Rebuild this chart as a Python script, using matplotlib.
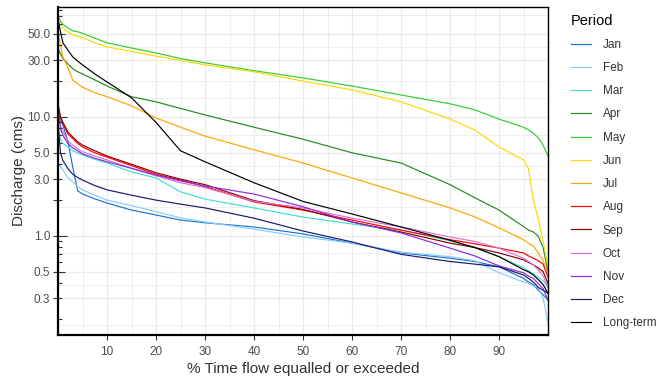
import matplotlib
matplotlib.use("Agg")
import matplotlib.pyplot as plt
import matplotlib.transforms as mtransforms
import numpy as np

plt.rcParams['font.family'] = ['Liberation Sans', 'DejaVu Sans']

# % time flow equalled or exceeded
pct = [0, 0.5, 1, 2, 3, 4, 5, 7.5, 10, 15, 20, 25, 30, 40, 50, 60, 70, 80, 85, 90, 95, 96, 97, 98, 99, 100]

jan = [10.5, 9.5, 8.5, 6.3, 3.8, 2.4, 2.25, 2.05, 1.89, 1.65, 1.5, 1.36, 1.29, 1.19, 1.04, 0.87, 0.72, 0.65, 0.61, 0.55, 0.44, 0.41, 0.39, 0.35, 0.32, 0.29]
feb = [4.2, 3.8, 3.6, 3.1, 2.85, 2.6, 2.44, 2.2, 2.0, 1.8, 1.6, 1.42, 1.31, 1.14, 0.98, 0.87, 0.73, 0.67, 0.62, 0.49, 0.41, 0.40, 0.38, 0.37, 0.30, 0.185]
mar = [8.1, 6.5, 6.0, 5.6, 5.2, 5.0, 4.8, 4.4, 4.1, 3.45, 3.07, 2.35, 2.04, 1.72, 1.44, 1.26, 1.12, 0.91, 0.80, 0.67, 0.54, 0.51, 0.48, 0.45, 0.42, 0.37]
apr = [38, 34, 31, 28, 25.5, 24, 23, 20.5, 18.2, 14.8, 13.4, 11.8, 10.4, 8.2, 6.5, 5.0, 4.1, 2.7, 2.1, 1.65, 1.2, 1.12, 1.08, 1.0, 0.8, 0.5]
may = [70, 64, 60, 56, 53, 52, 50.5, 46, 42, 38, 34.5, 31, 28.5, 24.5, 21.3, 18.2, 15.3, 12.9, 11.5, 9.6, 8.2, 7.8, 7.3, 6.7, 5.8, 4.7]
jun = [65, 60, 56, 52, 49, 47.5, 46.5, 42, 38.8, 35.5, 32.5, 30, 27.4, 24, 20, 16.9, 13.4, 9.6, 7.8, 5.6, 4.35, 3.7, 2.0, 1.4, 0.9, 0.55]
jul = [52, 40, 32, 26, 20.5, 19, 17.8, 16, 14.8, 12.4, 9.8, 8.2, 6.9, 5.3, 4.1, 3.07, 2.3, 1.72, 1.45, 1.17, 0.93, 0.87, 0.82, 0.72, 0.62, 0.49]
aug = [13, 10, 8.9, 7.2, 6.6, 6.0, 5.6, 5.0, 4.6, 3.9, 3.3, 2.95, 2.6, 1.93, 1.65, 1.36, 1.12, 0.93, 0.86, 0.79, 0.72, 0.68, 0.65, 0.62, 0.58, 0.45]
sep = [12.5, 10, 9, 7.5, 6.8, 6.2, 5.8, 5.2, 4.7, 4.0, 3.4, 3.0, 2.7, 1.98, 1.67, 1.31, 1.08, 0.87, 0.80, 0.72, 0.63, 0.60, 0.57, 0.54, 0.50, 0.40]
oct_ = [11, 8.5, 7.6, 6.3, 5.8, 5.4, 5.1, 4.7, 4.35, 3.7, 3.2, 2.8, 2.55, 1.95, 1.72, 1.41, 1.19, 0.98, 0.90, 0.79, 0.65, 0.61, 0.57, 0.52, 0.46, 0.37]
nov = [12, 8, 7, 6.0, 5.5, 5.2, 4.9, 4.5, 4.2, 3.7, 3.25, 2.9, 2.63, 2.25, 1.76, 1.31, 1.06, 0.79, 0.68, 0.56, 0.49, 0.46, 0.44, 0.40, 0.36, 0.29]
dec = [9, 5, 4.3, 3.7, 3.3, 3.1, 2.95, 2.65, 2.44, 2.2, 2.0, 1.85, 1.72, 1.41, 1.10, 0.89, 0.70, 0.61, 0.58, 0.55, 0.47, 0.44, 0.41, 0.37, 0.35, 0.33]
longterm = [66, 52, 42, 36.5, 32, 29.5, 27.4, 23, 19.7, 14.5, 9.0, 5.2, 4.2, 2.8, 1.95, 1.53, 1.19, 0.92, 0.80, 0.67, 0.52, 0.50, 0.47, 0.43, 0.39, 0.33]

periods = ["Jan", "Feb", "Mar", "Apr", "May", "Jun", "Jul", "Aug", "Sep", "Oct", "Nov", "Dec", "Long-term"]
series = [jan, feb, mar, apr, may, jun, jul, aug, sep, oct_, nov, dec, longterm]
colors = ["#1874CD", "#87CEFA", "#40E0D0", "#228B22", "#32CD32", "#FFD700", "#FFA500",
          "#FF0000", "#8B0000", "#DA70D6", "#8A2BE2", "#191970", "#000000"]

y_breaks = [0.3, 0.5, 1, 3, 5, 10, 30, 50]
y_labels = ["0.3", "0.5", "1.0", "3.0", "5.0", "10.0", "30.0", "50.0"]
x_breaks = [10, 20, 30, 40, 50, 60, 70, 80, 90]

fig = plt.figure(figsize=(6.72, 3.84), dpi=100)
ax = fig.add_axes([58/672, 1-335/384, (548-58)/672, (335-7)/384])

# grid
grid_c = "#EBEBEB"
for xv in range(0, 101, 5):
    ax.axvline(xv, color=grid_c, lw=0.9 if xv % 10 == 0 else 0.6, zorder=0)
for yv in y_breaks:
    ax.axhline(yv, color=grid_c, lw=0.9, zorder=0)
for yv in [0.18, 0.39, 0.72, 1.74, 3.9, 7.1, 20, 14.4, 38.7, 72]:
    ax.axhline(yv, color=grid_c, lw=0.6, zorder=0)

lines = []
for name, vals, c in zip(periods, series, colors):
    ln, = ax.plot(pct, vals, color=c, lw=0.85, label=name, zorder=2)
    lines.append(ln)

ax.set_yscale("log")
ax.set_xlim(0, 100)
ax.set_ylim(0.147, 84)
ax.set_xticks(x_breaks)
ax.set_xticklabels([str(v) for v in x_breaks])
ax.set_yticks(y_breaks + [2, 20])
ax.set_yticklabels(y_labels + ["", ""])
ax.yaxis.set_minor_locator(matplotlib.ticker.NullLocator())
ax.tick_params(axis="both", which="major", direction="out", length=3.5, width=0.8,
               color="#333333", labelsize=8.5, labelcolor="#4D4D4D")
ax.tick_params(axis="x", pad=4.5)
ax.tick_params(axis="y", pad=2)

# log ticks inside the left axis
trans = mtransforms.blended_transform_factory(ax.transAxes, ax.transData)
for k in [-1, 0, 1]:
    for m in range(1, 10):
        v = m * 10.0 ** k
        if v < 0.147 or v > 84:
            continue
        if m == 1:
            L = 0.019
        elif m == 5:
            L = 0.014
        else:
            L = 0.008
        ax.plot([0, L], [v, v], transform=trans, color="#333333", lw=0.8,
                zorder=3, clip_on=False, solid_capstyle="butt")

for side in ["left", "bottom"]:
    ax.spines[side].set_linewidth(1.6)
    ax.spines[side].set_color("black")
for side in ["top", "right"]:
    ax.spines[side].set_linewidth(1.0)
    ax.spines[side].set_color("black")

ax.set_xlabel("% Time flow equalled or exceeded", fontsize=11, color="#333333", labelpad=3)
ax.set_ylabel("Discharge (cms)", fontsize=11, color="#333333", labelpad=1)

leg = fig.legend(handles=lines, labels=periods, loc="upper left",
                 bbox_to_anchor=(560/672, 1-3/384), frameon=False,
                 title="Period", fontsize=8.5, title_fontsize=10.5,
                 handlelength=1.7, handletextpad=1.0, labelspacing=0.95,
                 alignment="left")
for t in leg.get_texts():
    t.set_color("#333333")

fig.savefig("out.png", dpi=100)
